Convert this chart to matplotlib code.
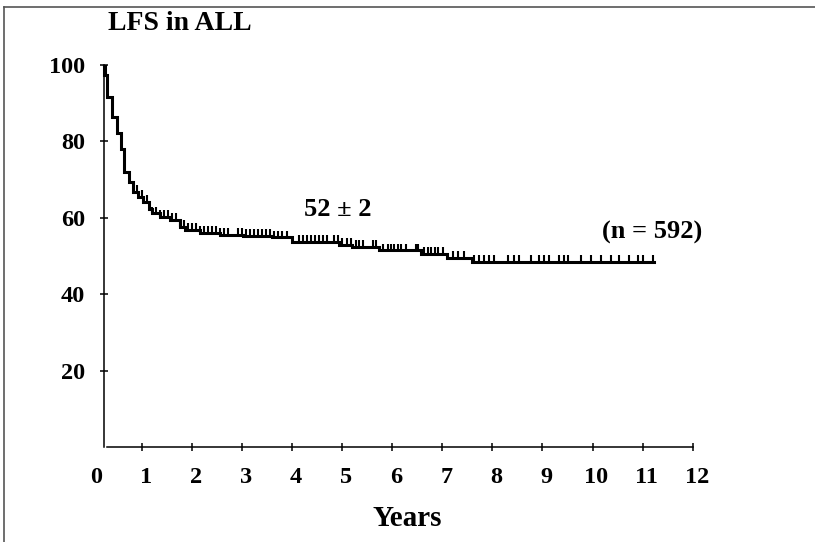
import numpy as np
import matplotlib
matplotlib.use("Agg")
import matplotlib.pyplot as plt
from matplotlib.lines import Line2D
from matplotlib.transforms import ScaledTranslation

plt.rcParams["font.family"] = ["Liberation Serif", "DejaVu Serif"]
plt.rcParams["font.weight"] = "bold"

# curve start (at the y axis) and step drops: time in years, LFS in %
start_time = 0.25
end_time = 11.23
drop_times = [0.27, 0.31, 0.41, 0.50, 0.58, 0.65, 0.75, 0.83, 0.93, 1.03,
              1.15, 1.20, 1.37, 1.57, 1.77, 1.87, 2.17, 2.57, 3.03, 3.60,
              4.00, 4.93, 5.20, 5.73, 6.57, 7.09, 7.60]
drop_levels = [97.4, 91.7, 86.5, 82.3, 78.0, 72.1, 69.3, 66.9, 65.6, 64.3,
               62.3, 61.2, 60.3, 59.5, 57.7, 56.9, 56.2, 55.6, 55.2, 54.9,
               53.8, 52.9, 52.5, 51.5, 50.6, 49.5, 48.4]

# censored patients (tick marks on the curve)
censor_times = [0.91, 1.01, 1.11, 1.21, 1.29,
                1.37, 1.45, 1.53, 1.61, 1.69, 1.77, 1.85, 1.93, 2.01, 2.09,
                2.17, 2.25, 2.33, 2.41, 2.49, 2.57, 2.65, 2.73,
                2.93, 3.01, 3.09, 3.17, 3.25, 3.33, 3.41, 3.49, 3.57, 3.65,
                3.73, 3.81, 3.89,
                4.13, 4.21, 4.29, 4.37, 4.45, 4.53, 4.61, 4.69, 4.83, 4.91,
                4.99, 5.09, 5.17, 5.27, 5.33, 5.41, 5.61, 5.67, 5.81, 5.91,
                5.97, 6.03, 6.11, 6.17, 6.27, 6.47, 6.51, 6.63, 6.71, 6.77,
                6.85, 6.91, 7.01, 7.21, 7.31, 7.43, 7.63, 7.73,
                7.83, 7.93, 8.03, 8.31, 8.43, 8.53, 8.77, 8.93, 9.03, 9.13,
                9.33, 9.43, 9.51, 9.77, 9.97, 10.17, 10.37, 10.53, 10.73,
                10.91, 11.01, 11.21]

x_ticks = list(range(0, 13))
y_ticks = [20, 40, 60, 80, 100]

fig = plt.figure(figsize=(8.15, 5.42), dpi=100)
ax = fig.add_axes([0.1125, 0.1744, 0.7374, 0.7057])

# step curve
xs = [start_time] + drop_times + [end_time]
ys = [100] + drop_levels + [drop_levels[-1]]
ax.step(xs, ys, where="post", color="black", lw=2.2, solid_joinstyle="miter")
ax.plot([start_time, start_time], [100, 97.4], color="black", lw=2.2)

# censor marks
all_levels = np.array([100] + drop_levels)
all_times = np.array([start_time] + drop_times)
idx = np.searchsorted(all_times, censor_times, side="right") - 1
cy = all_levels[idx]
ax.vlines(censor_times, cy, cy + 1.8, color="black", lw=1.5)

ax.set_xlim(0, 12)
ax.set_ylim(0, 100)
for s in ["top", "right"]:
    ax.spines[s].set_visible(False)
ax.spines["left"].set_position(("data", start_time))
ax.spines["left"].set_bounds(0, 100)
ax.spines["bottom"].set_bounds(start_time + 0.05, 12)
ax.spines["left"].set_linewidth(1.1)
ax.spines["bottom"].set_linewidth(1.1)

ax.set_xticks(x_ticks)
ax.set_yticks(y_ticks)
ax.tick_params(direction="inout", length=6, width=1.1, labelsize=17.5, pad=11)
ax.xaxis.get_major_ticks()[0].tick1line.set_visible(False)
offset = ScaledTranslation(4 / 100, 0, fig.dpi_scale_trans)
for lab in ax.get_xticklabels():
    lab.set_transform(lab.get_transform() + offset)
    lab.set_fontweight("bold")
for lab in ax.get_yticklabels():
    lab.set_fontweight("bold")

ax.text(4.23, 62.1, "52 \u00b1 2", fontsize=19, fontweight="bold", va="center", ha="left")
ax.text(10.19, 56.1, "(n = 592)", fontsize=19, fontweight="bold", va="center", ha="left")
fig.text(108 / 815, 1 - 24 / 542, "LFS in ALL", fontsize=20, fontweight="bold", va="center", ha="left")
fig.text(407 / 815, 1 - 518 / 542, "Years", fontsize=21, fontweight="bold", va="center", ha="center")

# scan frame (top and left edges)
fig.add_artist(Line2D([4 / 815, 1], [1 - 7 / 542, 1 - 7 / 542], color="#555555", lw=1.2))
fig.add_artist(Line2D([4 / 815, 4 / 815], [0, 1 - 7 / 542], color="#555555", lw=1.2))

fig.savefig("out.png", dpi=100)
